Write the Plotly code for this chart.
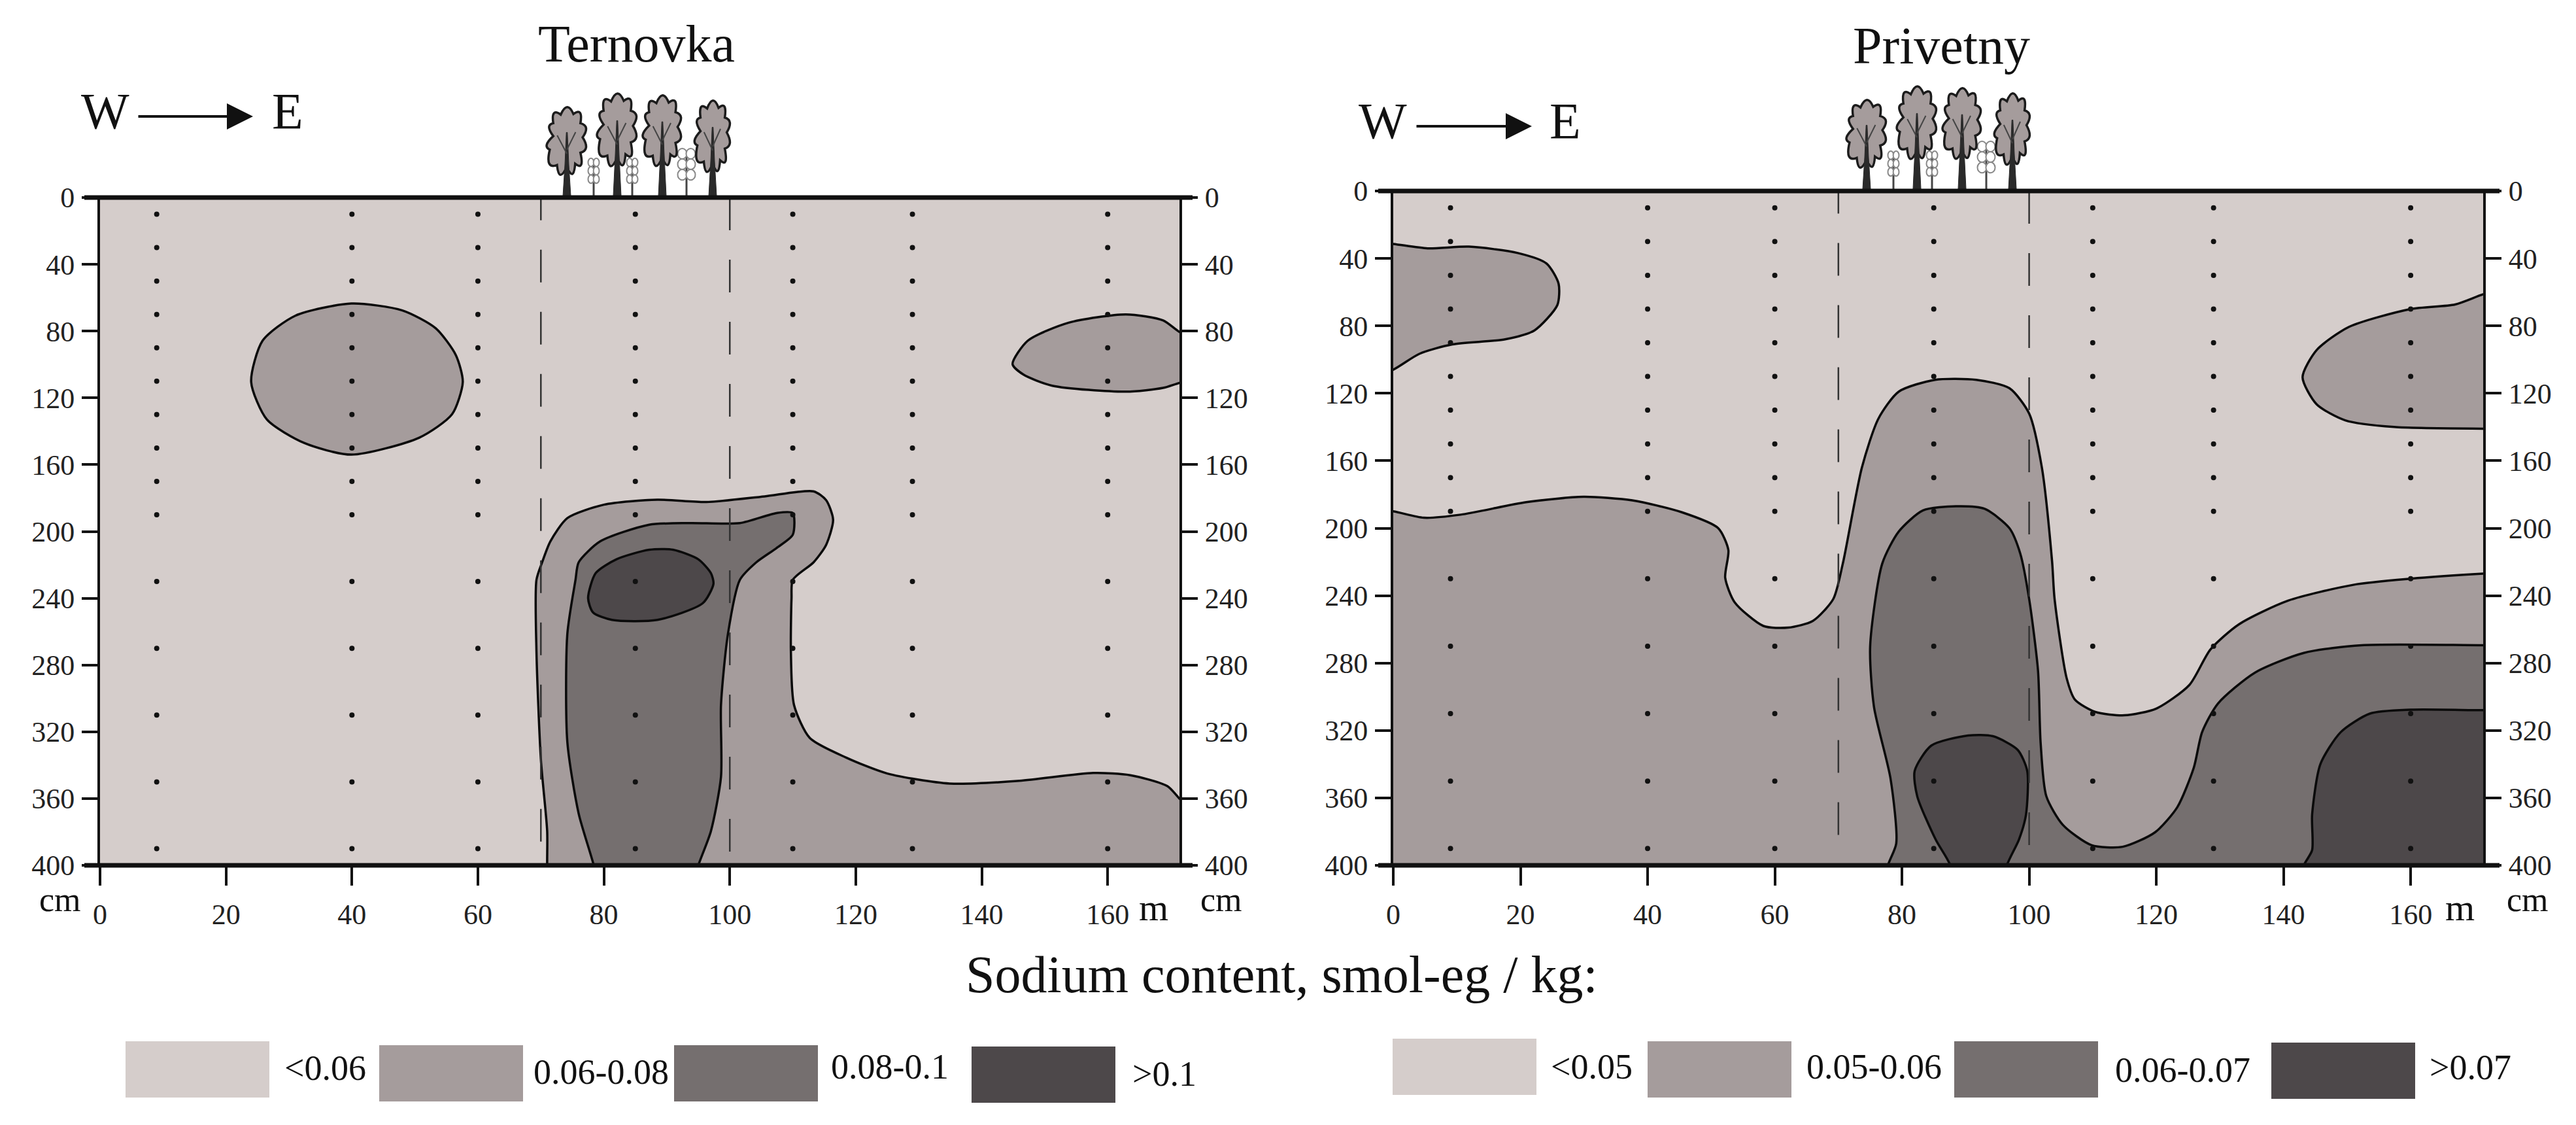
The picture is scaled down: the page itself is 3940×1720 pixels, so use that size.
import plotly.graph_objects as go

W, H = 3940, 1720

# depth in cm, distance in m
x_ticks = [0, 20, 40, 60, 80, 100, 120, 140, 160]
y_ticks = [0, 40, 80, 120, 160, 200, 240, 280, 320, 360, 400]
sample_x = [9, 40, 60, 85, 110, 129, 160]
sample_depth = [10, 30, 50, 70, 90, 110, 130, 150, 170, 190, 230, 270, 310, 350, 390]
belt_edges = [70, 100]
x_max = 171.4

colors = ["#d5cdcb", "#a59c9c", "#756f6f", "#4d484a"]
labels_t = ["<0.06", "0.06-0.08", "0.08-0.1", ">0.1"]
labels_p = ["<0.05", "0.05-0.06", "0.06-0.07", ">0.07"]

# Ternovka contours, outlines that meet the frame carry on past it and get clipped
t_oval_x = [39.9, 48, 53.3, 56.5, 57.6, 55.9, 50.7, 39.9, 32.4, 26.5, 24, 25.8, 31, 39.9]
t_oval_y = [63.5, 67.6, 78.3, 94.4, 110.5, 129.8, 143.8, 154, 147, 133, 110.5, 85.8, 70.8, 63.5]
t_east_x = [162.9, 168.8, 171.4, 178, 178, 171.4, 168.8, 162.9, 151.2, 146.6, 144.9, 147.3, 153.8, 162.9]
t_east_y = [70, 73.6, 80.5, 92, 105, 111, 114, 116.3, 112.7, 106, 99.8, 85.8, 75, 70]
t_mid_x = [71.2, 71, 71, 70, 69.3, 69.3, 70.2, 71.5, 74.2, 80, 88.5, 96.3, 105.5, 113.3, 115.3, 116.4, 115.3,
           113.3, 110, 109.8, 109.7, 110.2, 112.7, 118.5, 125, 134.9, 146, 157.7, 163.6, 169.5, 171.4, 176, 176, 71.2]
t_mid_y = [420, 400, 379.5, 336.6, 272, 229, 218.5, 206, 192, 184, 181, 182.4, 179, 176, 181.3, 193, 208,
           218.5, 229, 240, 272, 304, 323.7, 335.5, 345, 351, 349.4, 344.7, 346, 352.6, 360, 375, 420, 420]
t_high_x = [79.5, 78.4, 76, 74.2, 74.2, 75.5, 76, 79.4, 87.2, 93.7, 101.6, 107.4, 110, 110, 107.4, 104.2,
            101.6, 99.7, 98.6, 98.6, 97, 95, 93.5, 79.5]
t_high_y = [420, 400, 369, 326, 261.5, 229, 218.5, 206, 196, 195, 195, 189, 189, 202, 210, 218.5,
            229, 261.5, 304, 347, 379.5, 400, 420, 420]
t_top_x = [87.2, 91, 95, 97, 97.4, 95.7, 88.5, 81.3, 78.3, 77.5, 78.7, 82, 87.2]
t_top_y = [211, 211, 216.7, 225, 231.4, 243, 253, 253, 248.6, 240, 225, 216.7, 211]

# Privetny contours
p_west_x = [-8, 0, 5.4, 11.9, 19.6, 24.1, 26, 25.8, 22.2, 17.6, 9.3, 4.1, 0, -8, -8]
p_west_y = [28, 31.4, 34, 33, 36.8, 43, 55, 67.7, 82.7, 88, 91, 96.6, 106, 118, 28]
p_east_x = [180, 171.4, 167, 160, 150.3, 145.2, 143, 145.2, 149.7, 157.4, 171.4, 180, 180]
p_east_y = [52, 61.3, 67.3, 70, 80.6, 94.4, 110.5, 126.5, 136, 140, 141, 141, 52]
p_mid_x = [-8, 0, 4.8, 10.6, 20.9, 29.9, 37.6, 45.4, 51.1, 52.7, 52.2, 53.7, 58.2, 62.1, 66, 69.2, 70.7,
           73.7, 76.3, 79.5, 85.2, 91.7, 96.9, 100, 102, 103.6, 104, 105.9, 107.2, 110.4, 115, 120,
           125.2, 128.5, 133, 140.7, 151, 160, 171.4, 182, 182, -8, -8]
p_mid_y = [186, 190, 193.8, 192, 184.6, 181.4, 183.5, 190.6, 200, 213, 229.4, 244, 258, 259, 255, 242, 221,
           164, 135, 119, 112, 112, 117, 132, 164, 219.4, 242, 289, 301.7, 309, 311, 307,
           293, 272, 257, 243, 233.6, 230, 227, 225, 420, 420, 186]
p_high_x = [88.5, 93, 96.9, 98.6, 100, 101.4, 101.8, 102.7, 105.3, 109.8, 114.7, 119.8, 123.3, 125.9,
            127.2, 129.7, 135.5, 143.2, 152.3, 171.4, 182, 182, 77, 77.8, 79.1, 78.2, 75.6, 75, 76.9, 79.5, 83.3, 88.5]
p_high_y = [187, 188.5, 200, 215, 242, 284.7, 327, 359, 376, 388, 389, 380.4, 365.5, 342,
            321, 304, 285.7, 274, 269.4, 269.4, 269.4, 420, 420, 400, 387, 348.5, 306, 270, 221, 202, 189.5, 187]
p_top_x = [90.4, 94.3, 98.2, 99.7, 99.5, 98.4, 96.5, 95.5, 88.5, 87.6, 85.3, 82.4, 82, 84.6, 90.4]
p_top_y = [323, 323.4, 331.5, 344, 370, 384.7, 400, 420, 420, 400, 384.7, 359, 344, 329, 323]
p_corner_x = [182, 171.4, 160, 153.6, 149, 145.8, 144.5, 144.5, 143.2, 142, 182, 182]
p_corner_y = [308, 308, 307.7, 310, 321, 340, 370, 391, 400, 420, 420, 308]

t_layers = [(t_oval_x, t_oval_y, 1), (t_east_x, t_east_y, 1), (t_mid_x, t_mid_y, 1),
            (t_high_x, t_high_y, 2), (t_top_x, t_top_y, 3)]
p_layers = [(p_west_x, p_west_y, 1), (p_east_x, p_east_y, 1), (p_mid_x, p_mid_y, 1),
            (p_high_x, p_high_y, 2), (p_top_x, p_top_y, 3), (p_corner_x, p_corner_y, 3)]

font = "Liberation Serif"
ink = "#111111"


def px(v):
    return v / W


def py(v):
    return 1 - v / H


def line_shape(x0, y0, x1, y1, width, color=ink):
    return dict(type="line", xref="paper", yref="paper", x0=px(x0), y0=py(y0), x1=px(x1), y1=py(y1),
                line=dict(color=color, width=width), layer="above")


def box_shape(x0, y0, x1, y1, color):
    return dict(type="rect", xref="paper", yref="paper", x0=px(x0), y0=py(y0), x1=px(x1), y1=py(y1),
                fillcolor=color, line=dict(width=0))


def note(text, x, y, size, anchor="center"):
    return dict(text=text, xref="paper", yref="paper", x=px(x), y=py(y), xanchor=anchor, yanchor="middle",
                showarrow=False, font=dict(family=font, size=size, color=ink))


def lobed(points, cx, top, hw, hh, bulge=0.5):
    # outline through the notches, each lobe pushed outward with a Q control point
    path = []
    pts = [(cx + u * hw, top + v * hh) for u, v in points]
    mid = (cx, top + hh * 0.5)
    path.append(f"M{px(pts[0][0])},{py(pts[0][1])}")
    for i in range(1, len(pts) + 1):
        a, b = pts[i - 1], pts[i % len(pts)]
        mx, my = (a[0] + b[0]) / 2, (a[1] + b[1]) / 2
        qx = mx + (mx - mid[0]) * bulge
        qy = my + (my - mid[1]) * bulge
        path.append(f"Q{px(qx)},{py(qy)} {px(b[0])},{py(b[1])}")
    return " ".join(path) + " Z"


canopy = [(0.0, 0.98), (-0.45, 0.95), (-0.78, 0.7), (-0.62, 0.48), (-0.62, 0.27), (-0.28, 0.13),
          (0.3, 0.12), (0.62, 0.27), (0.72, 0.5), (0.62, 0.75), (0.38, 0.93)]


def tree(cx, top, bottom, width, base):
    crown = lobed(canopy, cx, top, width * 0.5, bottom - top, 0.62)
    mid = top + (bottom - top) * 0.42
    stem = (f"M{px(cx - 6)},{py(base)} L{px(cx - 3)},{py(bottom - 5)} L{px(cx - 0.8)},{py(mid)} "
            f"L{px(cx + 0.8)},{py(mid)} L{px(cx + 3)},{py(bottom - 5)} L{px(cx + 6)},{py(base)} Z")
    return [dict(type="path", xref="paper", yref="paper", path=crown, fillcolor=colors[1],
                 line=dict(color="#1c1c1c", width=3.5)),
            dict(type="path", xref="paper", yref="paper", path=stem, fillcolor="#2a2a2a",
                 line=dict(color="#2a2a2a", width=1)),
            line_shape(cx, bottom - 22, cx - width * 0.22, bottom - 50, 2, "#444444"),
            line_shape(cx, bottom - 28, cx + width * 0.2, bottom - 55, 2, "#444444")]


def bush(cx, top, width, base):
    parts = [line_shape(cx, top + 8, cx, base, 3, "#444444")]
    r = width * 0.26
    for v in [0.0, 0.22, 0.44]:
        y0 = top + (base - top) * v
        for side in [-1, 1]:
            c = cx + side * width * 0.24
            parts.append(dict(type="circle", xref="paper", yref="paper", x0=px(c - r), x1=px(c + r),
                              y0=py(y0), y1=py(y0 + (base - top) * 0.22), fillcolor="white",
                              line=dict(color="#888888", width=2)))
    return parts


shapes = []
for dx, dy in [(0, 0), (1988, -11)]:
    base = 300 + dy
    for cx, top, width in [(908, 242, 17), (967, 242, 17), (1050, 227, 27)]:
        shapes += bush(cx + dx, top + dy, width, base)
    for cx, top, bottom, width in [(867, 163, 257, 67), (944, 142, 243, 67), (1013, 145, 243, 65), (1090, 153, 252, 60)]:
        shapes += tree(cx + dx, top + dy, bottom + dy, width, base)

# heavy ground and bottom lines run past the frame
shapes += [line_shape(129, 302, 1824, 302, 7), line_shape(129, 1323, 1824, 1323, 7),
           line_shape(2108, 292, 3823, 292, 7), line_shape(2108, 1323, 3823, 1323, 7)]

swatches_t = [(192, 1592), (580, 1598), (1031, 1598), (1486, 1600)]
swatches_p = [(2130, 1588), (2520, 1592), (2989, 1592), (3474, 1594)]
for (sx, sy), c in zip(swatches_t + swatches_p, colors + colors):
    shapes.append(box_shape(sx, sy, sx + 220, sy + 86, c))

fig = go.Figure()


def add_panel(layers, xa, ya, ya_right):
    for lx, ly, level in layers:
        fig.add_trace(go.Scatter(x=lx, y=ly, xaxis=xa, yaxis=ya, mode="lines", fill="toself",
                                 fillcolor=colors[level], line=dict(color="#0a0a0a", width=3.5, shape="spline", smoothing=0.7),
                                 hoverinfo="skip", showlegend=False))
    dots_x = [x for x in sample_x for d in sample_depth]
    dots_y = [d for x in sample_x for d in sample_depth]
    fig.add_trace(go.Scatter(x=dots_x, y=dots_y, xaxis=xa, yaxis=ya, mode="markers",
                             marker=dict(color="#111111", size=8), hoverinfo="skip", showlegend=False))
    for edge, start in zip(belt_edges, [-6, 0]):
        fig.add_trace(go.Scatter(x=[edge, edge], y=[start, 400], xaxis=xa, yaxis=ya_right, mode="lines",
                                 line=dict(color="#333333", width=2.5, dash="50px,45px"),
                                 hoverinfo="skip", showlegend=False))


add_panel(t_layers, "x", "y", "y3")
add_panel(p_layers, "x2", "y2", "y4")

x_style = dict(range=[0, x_max], tickvals=x_ticks, ticks="outside", ticklen=30, tickwidth=4, tickcolor=ink,
               showgrid=False, zeroline=False, showline=False, ticklabelstandoff=6,
               tickfont=dict(family=font, size=44, color="#222222"))
y_style = dict(range=[400, 0], tickvals=y_ticks, ticks="outside", ticklen=24, tickwidth=4, tickcolor=ink,
               showgrid=False, zeroline=False, showline=True, linewidth=4, linecolor=ink, ticklabelstandoff=2,
               tickfont=dict(family=font, size=44, color="#222222"))

annotations = [
    note("Ternovka", 973, 67, 80), note("Privetny", 2969, 70, 80),
    note("W", 161, 170, 78), note("E", 440, 170, 78),
    note("W", 2115, 185, 78), note("E", 2394, 185, 78),
    note("m", 1764, 1387, 58), note("m", 3762, 1387, 58),
    note("cm", 92, 1375, 52), note("cm", 1868, 1375, 52), note("cm", 3866, 1375, 52),
    note("Sodium content, smol-eg / kg:", 1960, 1490, 80),
]
for text, x, y in zip(labels_t + labels_p,
                      [433, 814, 1269, 1730, 2370, 2761, 3233, 3714],
                      [1633, 1639, 1631, 1642, 1631, 1631, 1636, 1632]):
    annotations.append(note(text, x, y, 54, "left"))
for x0, x1, y in [(210, 387, 178), (2165, 2343, 193)]:
    annotations.append(dict(x=px(x1), y=py(y), ax=x0 - x1, ay=0, xref="paper", yref="paper",
                            axref="pixel", ayref="pixel",
                            text="", showarrow=True, arrowhead=2, arrowsize=2, arrowwidth=4, arrowcolor=ink))

fig.update_layout(
    width=W, height=H, margin=dict(l=0, r=0, t=0, b=0, autoexpand=False), paper_bgcolor="white", plot_bgcolor=colors[0],
    showlegend=False, shapes=shapes, annotations=annotations,
    xaxis=dict(domain=[px(153), px(1804)], anchor="y", **x_style),
    xaxis2=dict(domain=[px(2131), px(3798)], anchor="y2", **x_style),
    yaxis=dict(domain=[py(1323), py(302)], anchor="x", side="left", **y_style),
    yaxis3=dict(domain=[py(1323), py(302)], anchor="x", overlaying="y", side="right", **y_style),
    yaxis2=dict(domain=[py(1323), py(292)], anchor="x2", side="left", **y_style),
    yaxis4=dict(domain=[py(1323), py(292)], anchor="x2", overlaying="y2", side="right", **y_style),
)

fig.write_html("out.html", config={"displayModeBar": False}, post_script="document.body.style.margin='0';")
